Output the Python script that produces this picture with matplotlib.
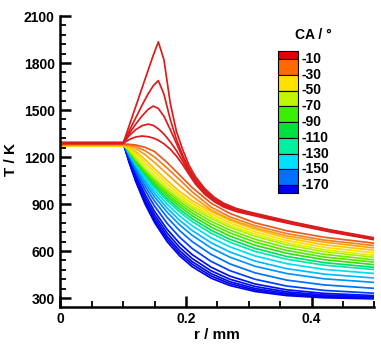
import matplotlib
matplotlib.use("Agg")
import matplotlib.pyplot as plt
from matplotlib.colors import LinearSegmentedColormap
from matplotlib.patches import Rectangle
from matplotlib.ticker import MultipleLocator
import numpy as np

plt.rcParams["font.family"] = ["Liberation Sans", "DejaVu Sans"]
plt.rcParams["font.weight"] = "bold"

# radius grids (mm)
r_peak = [0, 0.1, 0.11, 0.12, 0.13, 0.14, 0.148, 0.156, 0.165, 0.175, 0.185,
          0.195, 0.205, 0.215, 0.23, 0.245, 0.26, 0.28, 0.3, 0.33, 0.37, 0.43, 0.5]
r_fan = [0, 0.1, 0.11, 0.12, 0.135, 0.15, 0.17, 0.19, 0.21, 0.24,
         0.27, 0.31, 0.36, 0.42, 0.5]

# late crank angles, curves with a temperature peak
ca_peak = [-10, -15, -20, -25, -30]
T_peak = [
    [1288, 1288, 1405, 1522, 1640, 1757, 1850, 1935, 1820, 1543, 1360, 1245, 1146, 1075, 998, 943, 905, 872, 850, 822, 785, 735, 684],
    [1288, 1288, 1370, 1450, 1530, 1605, 1655, 1688, 1600, 1440, 1310, 1210, 1125, 1060, 988, 936, 899, 867, 846, 818, 782, 732, 681],
    [1288, 1288, 1352, 1410, 1462, 1505, 1525, 1510, 1460, 1375, 1285, 1195, 1112, 1048, 978, 929, 893, 862, 842, 814, 778, 729, 678],
    [1288, 1288, 1338, 1375, 1400, 1410, 1402, 1380, 1347, 1297, 1240, 1172, 1100, 1038, 970, 922, 887, 857, 838, 810, 775, 726, 675],
    [1288, 1288, 1312, 1328, 1334, 1330, 1321, 1307, 1284, 1250, 1205, 1150, 1088, 1028, 962, 915, 881, 852, 834, 806, 771, 722, 672],
]

# earlier crank angles, monotonically falling curves
ca_fan = [-35, -40, -45, -50, -55, -60, -65, -70, -75, -80, -90, -100,
          -110, -120, -130, -140, -150, -160, -165, -170, -175, -180]
T_fan = [
    [1282, 1282, 1281, 1277, 1262, 1235, 1165, 1085, 1005, 905, 840, 780, 730, 688, 650],
    [1280, 1280, 1278, 1268, 1240, 1200, 1130, 1055, 978, 880, 818, 762, 712, 670, 635],
    [1278, 1278, 1272, 1255, 1215, 1165, 1092, 1018, 950, 862, 803, 748, 697, 657, 620],
    [1272, 1272, 1264, 1236, 1184, 1126, 1050, 980, 922, 852, 796, 738, 684, 640, 605],
    [1272, 1272, 1258, 1223, 1164, 1104, 1029, 961, 905, 836, 780, 722, 668, 624, 589],
    [1272, 1272, 1250, 1208, 1144, 1083, 1010, 945, 890, 821, 765, 707, 653, 609, 573],
    [1292, 1292, 1240, 1191, 1124, 1064, 993, 930, 876, 808, 752, 694, 640, 596, 560],
    [1292, 1292, 1237, 1186, 1116, 1054, 980, 915, 860, 790, 734, 675, 622, 579, 544],
    [1292, 1292, 1235, 1181, 1108, 1043, 966, 900, 843, 772, 716, 657, 604, 562, 529],
    [1292, 1292, 1232, 1175, 1099, 1031, 952, 884, 825, 753, 696, 637, 586, 545, 513],
    [1292, 1292, 1228, 1169, 1089, 1018, 936, 866, 806, 733, 675, 617, 566, 526, 496],
    [1292, 1292, 1225, 1163, 1079, 1006, 921, 849, 788, 714, 656, 598, 548, 510, 482],
    [1292, 1292, 1220, 1154, 1066, 988, 899, 824, 761, 685, 627, 569, 520, 483, 457],
    [1292, 1292, 1215, 1145, 1050, 968, 874, 796, 731, 653, 594, 536, 488, 453, 428],
    [1292, 1292, 1209, 1134, 1033, 946, 848, 767, 700, 620, 561, 503, 457, 423, 400],
    [1292, 1292, 1202, 1120, 1012, 919, 815, 730, 660, 579, 518, 461, 415, 384, 362],
    [1292, 1292, 1193, 1104, 987, 887, 777, 688, 616, 534, 475, 420, 377, 349, 331],
    [1292, 1292, 1183, 1085, 960, 854, 739, 649, 577, 497, 440, 390, 353, 330, 316],
    [1292, 1292, 1176, 1073, 941, 832, 715, 623, 552, 474, 420, 374, 340, 320, 309],
    [1292, 1292, 1169, 1062, 925, 813, 694, 602, 532, 456, 404, 361, 331, 313, 303],
    [1292, 1292, 1164, 1053, 912, 797, 677, 585, 516, 441, 392, 351, 323, 307, 299],
    [1292, 1292, 1159, 1044, 899, 782, 660, 569, 500, 427, 380, 342, 316, 302, 295],
]

legend_labels = ["-10", "-30", "-50", "-70", "-90", "-110", "-130", "-150", "-170"]
legend_colors = ["#e80000", "#ff6a00", "#ffe000", "#c0f500", "#38f000",
                 "#00e040", "#00f0a0", "#00e0ff", "#0070ff", "#0000f0"]

# line colour map over crank angle
nodes = [(-180, "#0000e6"), (-160, "#0010f5"), (-150, "#0040ff"), (-140, "#0070ff"),
         (-130, "#0095ff"), (-120, "#00bbff"), (-110, "#00dcee"), (-100, "#00e8b0"),
         (-90, "#00e060"), (-80, "#30e010"), (-70, "#70ea00"), (-65, "#a8f000"),
         (-60, "#e0ee00"), (-55, "#ffe000"), (-50, "#ffc400"), (-45, "#ffa010"),
         (-40, "#f08020"), (-35, "#e86020"), (-30, "#dc1c1c"), (-10, "#dc1c1c")]
lo, hi = nodes[0][0], nodes[-1][0]
cmap = LinearSegmentedColormap.from_list(
    "ca", [((v - lo) / (hi - lo), c) for v, c in nodes])


def ca_color(ca):
    return cmap((ca - lo) / (hi - lo))


W, H = 381, 344
fig = plt.figure(figsize=(W / 100, H / 100), dpi=100)
ax = fig.add_axes([60.3 / W, 1 - 306.7 / H, 314.2 / W, 290.7 / H])

for ca, T in reversed(list(zip(ca_fan, T_fan))):
    ax.plot(r_fan, T, color=ca_color(ca), lw=1.25, solid_joinstyle="round")
for ca, T in reversed(list(zip(ca_peak, T_peak))):
    ax.plot(r_peak, T, color=ca_color(ca), lw=1.25, solid_joinstyle="round")

ax.set_xlim(0, 0.5)
ax.set_ylim(245, 2100)
ax.set_xticks([0, 0.2, 0.4])
ax.set_xticklabels(["0", "0.2", "0.4"])
ax.xaxis.set_minor_locator(MultipleLocator(0.05))
ax.set_yticks(np.arange(300, 2101, 300))
ax.yaxis.set_minor_locator(MultipleLocator(60))
ax.tick_params(which="major", direction="in", length=8, width=1.8,
               labelsize=10, pad=4)
ax.tick_params(which="minor", direction="in", length=4.5, width=1.3)
for s in ["top", "right"]:
    ax.spines[s].set_visible(False)
for s in ["left", "bottom"]:
    ax.spines[s].set_linewidth(1.8)

fig.text(217 / W, 1 - 335 / H, "r / mm", ha="center", va="center",
         fontsize=11, fontweight="bold")
fig.text(11 / W, 1 - 160 / H, "T / K", ha="center", va="center",
         fontsize=11, fontweight="bold", rotation=90)

# contour-style legend
edges = [51, 59, 74.8, 90.5, 106.3, 122, 137.8, 153.5, 169.3, 185, 193.3]
x0, bw = 278.3, 20
for i, c in enumerate(legend_colors):
    y_top, y_bot = edges[i], edges[i + 1]
    fig.add_artist(Rectangle((x0 / W, 1 - y_bot / H), bw / W, (y_bot - y_top) / H,
                             transform=fig.transFigure, facecolor=c,
                             edgecolor="black", lw=0.8))
for lab, y in zip(legend_labels, edges[1:-1]):
    fig.text(302 / W, 1 - y / H, lab, ha="left", va="center", fontsize=10,
             fontweight="bold")
fig.text(313 / W, 1 - 35 / H, "CA / \u00b0", ha="center", va="center",
         fontsize=10, fontweight="bold")

fig.savefig("out.png", dpi=100)
